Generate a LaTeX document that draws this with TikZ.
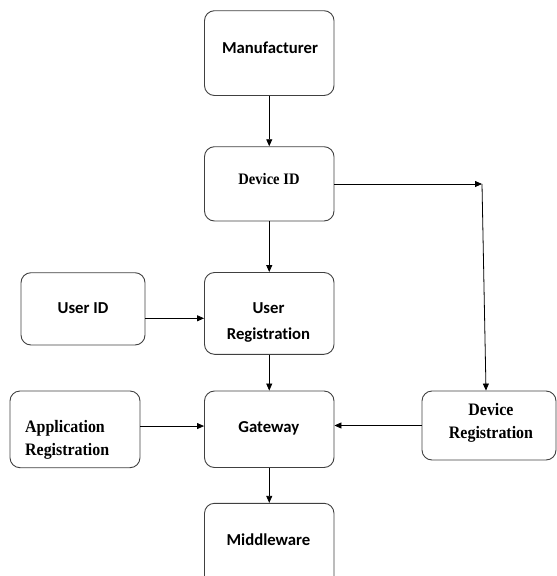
\documentclass[tikz,border=0pt]{standalone}
\usepackage{fontspec}
\usetikzlibrary{arrows.meta}
\newfontfamily\sansfam{Carlito}[Ligatures=NoCommon]
\newfontfamily\seriffam{Liberation Serif}[FakeStretch=0.91]
\begin{document}
\begin{tikzpicture}[x=1pt,y=-1pt,
  box/.style={draw=black!75,line width=0.9pt,rounded corners=10pt,
    rectangle,inner sep=0pt},
  link/.style={draw=black,line width=0.8pt,-{Triangle[length=7pt,width=6pt]}},
  stxt/.style={font=\sansfam\bfseries\fontsize{16.7}{25.7}\selectfont,anchor=base,inner sep=0pt,align=center},
  rtxt/.style={font=\seriffam\bfseries\fontsize{17.5}{23}\selectfont,anchor=base,inner sep=0pt},
]
\useasboundingbox (0,0) rectangle (557,576);
\clip (0,0) rectangle (557,576);

% boxes
\node[box,minimum width=129.5pt,minimum height=84.8pt] (manuf)   at (269.25,53.1) {};
\node[box,minimum width=129.5pt,minimum height=74.3pt] (devid)   at (269.25,183.85) {};
\node[box,minimum width=129.5pt,minimum height=81.8pt] (userreg) at (269.25,313.4) {};
\node[box,minimum width=129.5pt,minimum height=76.5pt] (gateway) at (269.25,429.25) {};
\node[box,minimum width=129.5pt,minimum height=90pt]   (middle)  at (269.25,548.3) {};
\node[box,minimum width=124pt,minimum height=72.3pt]   (userid)  at (83,308.85) {};
\node[box,minimum width=130pt,minimum height=76.7pt]   (appreg)  at (75,429.35) {};
\node[box,minimum width=134pt,minimum height=69pt]     (devreg)  at (489,425.5) {};

% labels (multi-line labels are anchored on their last baseline)
\node[stxt] (manuf-t)   at (270,53.3)  {Manufacturer};
\node[rtxt,font=\seriffam\bfseries\fontsize{16}{20}\selectfont] (devid-t) at (269,184.3) {Device ID};
\node[stxt] (userid-t)  at (83,313.3)  {User ID};
\node[stxt] (userreg-t) at (268.5,339) {User\\Registration};
\node[stxt] (gateway-t) at (268.8,432.3) {Gateway};
\node[stxt] (middle-t)  at (268.5,545.5) {Middleware};
\node[rtxt,anchor=base west,align=left] (appreg-t) at (25,455) {Application\\Registration};
\node[rtxt,align=center,font=\seriffam\bfseries\fontsize{17.5}{22.6}\selectfont] (devreg-t) at (491,438.3) {Device\\Registration};

% connector end points off the box centres
\coordinate (uid-out)  at ([yshift=-9.45pt]userid.east);
\coordinate (app-out)  at ([yshift=3.3pt]appreg.east);
\coordinate (turn)     at (482,184);
\coordinate (dreg-in)  at ([xshift=-3pt]devreg.north);

% connectors
\draw[link] (manuf) -- (devid);
\draw[link] (devid) -- (userreg);
\draw[link] (userreg) -- (gateway);
\draw[link] (gateway) -- (middle);
\draw[link] (uid-out) -- (userreg.west |- uid-out);
\draw[link] (app-out) -- (gateway.west |- app-out);
\draw[link] (devreg.west) -- (gateway.east |- devreg.west);
\draw[link] (devid.east |- turn) -- (turn);
\draw[link] (turn) -- (dreg-in);
\end{tikzpicture}
\end{document}
